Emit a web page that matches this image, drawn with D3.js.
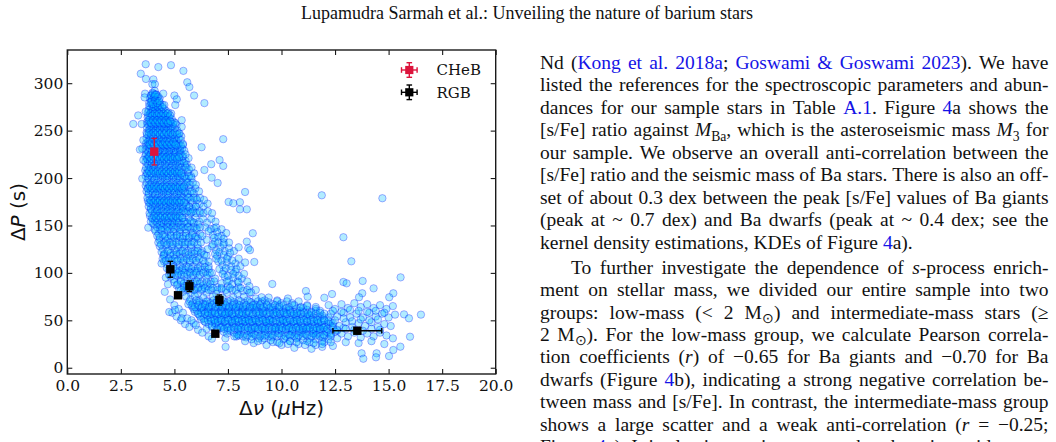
<!DOCTYPE html>
<html><head><meta charset="utf-8">
<script src="https://cdn.jsdelivr.net/npm/d3@7"></script>
<style>html,body{margin:0;padding:0;background:#fff}svg{display:block}</style>
</head><body>
<svg id="c" width="1056" height="442"></svg>
<script>
// ---------------- data ----------------
const xTicks = [0, 2.5, 5, 7.5, 10, 12.5, 15, 17.5, 20];
const yTicks = [0, 50, 100, 150, 200, 250, 300];
const xLabelParts = [["n","Δ"],["i","ν"],["n"," ("],["i","μ"],["n","Hz)"]];
const yLabelParts = [["n","Δ"],["i","P"],["n"," (s)"]];
const legendLabels = ["CHeB", "RGB"];

// [Δν (μHz), ΔP (s)]
const clumpPoints = [
[3.98,290],[4.08,292],[4.14,288],[4.02,286],[4.2,285],[3.9,287],
[3.82,279],[3.94,281],[4.04,277],[4.12,280],[4.22,276],[4.32,279],[4.45,277],[3.9,274],[4.1,273],[4.28,274],
[3.76,269],[3.86,266],[3.96,270],[4.05,265],[4.15,269],[4.25,265],[4.35,270],[4.46,266],[4.58,269],[4.7,265],[4.85,268],[4.0,262],[4.2,261],[4.42,262],[4.65,261],
[3.72,259],[3.82,256],[3.92,260],[4.02,255],[4.12,259],[4.22,255],[4.32,259],[4.42,255],[4.52,258],[4.62,254],[4.74,258],[4.86,255],[4.98,259],[5.1,256],[3.85,251],[4.08,250],[4.3,251],[4.55,250],[4.8,251],
[3.7,248],[3.8,245],[3.9,249],[4.0,244],[4.1,248],[4.2,244],[4.3,247],[4.4,243],[4.5,247],[4.6,244],[4.72,248],[4.84,244],[4.96,247],[5.08,243],[5.2,247],[5.32,244],[3.84,240],[4.05,239],[4.28,240],[4.52,239],[4.78,240],[5.0,238],
[3.66,236],[3.76,233],[3.88,237],[3.98,233],[4.18,236],[4.3,232],[4.42,236],[4.54,232],[4.66,235],[4.78,232],[4.9,236],[5.02,232],[5.14,235],[5.26,231],[5.4,235],[3.8,228],[4.25,227],[4.5,228],[4.75,226],[5.0,227],[5.3,226],
[3.64,223],[3.74,220],[3.86,224],[3.96,219],[4.16,222],[4.28,219],[4.4,223],[4.52,219],[4.64,222],[4.76,218],[4.88,222],[5.0,218],[5.12,221],[5.25,218],[5.38,222],[5.52,218],[5.66,221],[3.8,214],[4.05,213],[4.35,214],[4.6,212],[4.9,213],[5.2,212],[5.5,213],
[3.64,208],[3.74,205],[3.86,209],[3.98,204],[4.1,208],[4.22,204],[4.34,207],[4.46,203],[4.58,207],[4.7,203],[4.82,207],[4.95,203],[5.08,206],[5.2,202],[5.34,206],[5.48,202],[5.62,206],[5.78,202],[5.92,205],[3.78,199],[4.05,198],[4.35,197],[4.65,198],[4.95,196],[5.25,197],[5.6,196],
[3.66,192],[3.78,189],[3.9,193],[4.02,188],[4.14,192],[4.26,188],[4.38,191],[4.5,187],[4.62,191],[4.74,187],[4.86,191],[4.98,187],[5.1,190],[5.24,186],[5.38,190],[5.52,186],[5.66,190],[5.82,186],[5.98,189],[6.15,186],[3.8,183],[4.1,182],[4.4,181],[4.7,182],[5.0,180],[5.3,181],[5.65,180],[6.0,179],
[3.76,176],[3.88,173],[4.0,177],[4.12,172],[4.24,176],[4.36,172],[4.48,175],[4.6,171],[4.72,175],[4.84,171],[4.96,175],[5.1,171],[5.24,174],[5.38,170],[5.52,174],[5.68,170],[5.84,174],[6.0,170],[6.18,173],[6.36,170],[6.55,173],[3.9,167],[4.2,166],[4.5,165],[4.8,166],[5.1,164],[5.45,165],[5.8,164],[6.2,163],
[3.86,160],[3.98,157],[4.1,161],[4.22,156],[4.34,160],[4.46,156],[4.58,159],[4.7,155],[4.82,159],[4.95,155],[5.08,159],[5.22,155],[5.36,158],[5.5,154],[5.66,158],[5.82,154],[5.98,158],[6.16,154],[6.34,157],[6.52,153],[6.72,157],[6.92,154],[4.05,151],[4.35,150],[4.65,149],[4.95,150],[5.3,148],[5.65,149],[6.0,147],[6.45,148],[6.85,147]
];
const clumpCore = [
[3.86,284],[3.95,282],[4.04,285],[4.13,283],[4.22,281],[4.31,284],
[3.8,272],[3.9,270],[4.0,273],[4.1,271],[4.2,269],[4.3,272],[4.4,270],[4.5,273],[4.6,271],[4.72,269],
[3.75,264],[3.85,262],[3.95,265],[4.05,263],[4.15,261],[4.25,264],[4.35,262],[4.45,265],[4.55,263],[4.65,261],[4.75,264],[4.88,262],
[3.72,253],[3.82,251],[3.92,254],[4.02,252],[4.12,250],[4.22,253],[4.32,251],[4.42,254],[4.52,252],[4.62,250],[4.72,253],[4.82,251],[4.92,254],[5.02,252],[5.14,250],
[3.7,242],[3.8,240],[3.9,243],[4.0,241],[4.1,239],[4.2,242],[4.3,240],[4.4,243],[4.5,241],[4.6,239],[4.7,242],[4.8,240],[4.9,243],[5.0,241],[5.1,239],[5.2,242],[5.3,240],
[3.66,230],[3.76,228],[3.86,231],[3.96,229],[4.16,230],[4.26,228],[4.36,231],[4.46,229],[4.56,227],[4.66,230],[4.76,228],[4.86,231],[4.96,229],[5.06,227],[5.16,230],[5.26,228],[5.36,231],[5.46,229],
[3.65,217],[3.75,215],[3.85,218],[3.95,216],[4.05,214],[4.15,217],[4.25,215],[4.35,218],[4.45,216],[4.55,214],[4.65,217],[4.75,215],[4.85,218],[4.95,216],[5.05,214],[5.15,217],[5.25,215],[5.35,218],[5.45,216],[5.58,214],
[3.66,202],[3.76,200],[3.86,203],[3.96,201],[4.06,199],[4.16,202],[4.26,200],[4.36,203],[4.46,201],[4.56,199],[4.66,202],[4.76,200],[4.86,203],[4.96,201],[5.06,199],[5.16,202],[5.26,200],[5.36,203],[5.46,201],[5.56,199],[5.68,202],[5.8,200],
[3.7,186],[3.8,184],[3.9,187],[4.0,185],[4.1,183],[4.2,186],[4.3,184],[4.4,187],[4.5,185],[4.6,183],[4.7,186],[4.8,184],[4.9,187],[5.0,185],[5.1,183],[5.2,186],[5.3,184],[5.4,187],[5.5,185],[5.62,183],[5.75,186],[5.9,184],
[3.8,170],[3.9,168],[4.0,171],[4.1,169],[4.2,167],[4.3,170],[4.4,168],[4.5,171],[4.6,169],[4.7,167],[4.8,170],[4.9,168],[5.0,171],[5.1,169],[5.2,167],[5.3,170],[5.42,168],[5.55,171],[5.7,169],[5.85,167],[6.0,170],
[3.9,154],[4.0,152],[4.1,155],[4.2,153],[4.3,151],[4.4,154],[4.5,152],[4.6,155],[4.7,153],[4.8,151],[4.9,154],[5.0,152],[5.1,155],[5.2,153],[5.32,151],[5.45,154],[5.6,152],[5.75,155],[5.9,153],[6.1,151]
];
const clumpFill = [
[3.92,287],[4.0,289],[4.08,286],[4.16,288],[4.24,286],
[3.83,276],[3.93,278],[4.03,275],[4.13,277],[4.23,275],[4.33,277],[4.43,275],[4.53,277],
[3.78,266],[3.88,268],[3.98,266],[4.08,268],[4.18,266],[4.28,268],[4.38,266],[4.48,268],[4.58,266],[4.68,268],[4.8,266],
[3.74,257],[3.84,259],[3.94,257],[4.04,259],[4.14,257],[4.24,259],[4.34,257],[4.44,259],[4.54,257],[4.64,259],[4.74,257],[4.84,259],[4.94,257],[5.04,258],
[3.72,246],[3.82,248],[3.92,246],[4.02,248],[4.12,246],[4.22,248],[4.32,246],[4.42,248],[4.52,246],[4.62,248],[4.72,246],[4.82,248],[4.92,246],[5.02,248],[5.12,246],[5.24,247],
[3.7,234],[3.8,236],[3.9,234],[4.0,236],[4.1,234],[4.2,236],[4.3,234],[4.4,236],[4.5,234],[4.6,236],[4.7,234],[4.8,236],[4.9,234],[5.0,236],[5.1,234],[5.2,236],[5.3,234],[5.4,236],
[3.68,225],[3.78,223],[3.9,225],[4.0,223],[4.1,225],[4.2,223],[4.32,225],[4.44,223],[4.56,225],[4.68,223],[4.8,225],[4.92,223],[5.04,225],[5.16,223],[5.28,225],[5.4,223],[5.52,225],
[3.68,211],[3.78,209],[3.9,211],[4.0,209],[4.12,211],[4.24,209],[4.36,211],[4.48,209],[4.6,211],[4.72,209],[4.84,211],[4.96,209],[5.08,211],[5.2,209],[5.32,211],[5.44,209],[5.56,211],[5.68,209],[5.8,211],
[3.7,195],[3.82,193],[3.94,195],[4.06,193],[4.18,195],[4.3,193],[4.42,195],[4.54,193],[4.66,195],[4.78,193],[4.9,195],[5.02,193],[5.14,195],[5.26,193],[5.38,195],[5.5,193],[5.62,195],[5.74,193],[5.86,195],[6.0,193],
[3.74,179],[3.86,177],[3.98,179],[4.1,177],[4.22,179],[4.34,177],[4.46,179],[4.58,177],[4.7,179],[4.82,177],[4.94,179],[5.06,177],[5.18,179],[5.3,177],[5.42,179],[5.54,177],[5.66,179],[5.78,177],[5.9,179],[6.05,177],[6.2,179],[6.38,177],
[3.84,163],[3.96,165],[4.08,163],[4.2,165],[4.32,163],[4.44,165],[4.56,163],[4.68,165],[4.8,163],[4.92,165],[5.04,163],[5.16,165],[5.28,163],[5.4,165],[5.52,163],[5.64,165],[5.76,163],[5.88,165],[6.02,163],[6.18,165],[6.36,163],[6.56,165],[6.76,163],
[4.08,146],[4.2,148],[4.32,146],[4.44,148],[4.56,146],[4.68,148],[4.8,146],[4.92,148],[5.04,146],[5.16,148],[5.28,146],[5.4,148],[5.52,146],[5.64,148],[5.76,146],[5.9,148],[6.05,146],[6.2,148],[6.7,146],[6.95,148],[7.2,146]
];
const clumpExtra = [
[3.9,280],[4.0,278],[4.1,282],[4.2,279],[4.3,281],
[3.8,261],[3.9,258],[4.0,261],[4.1,258],[4.2,261],[4.3,258],[4.4,261],[4.5,258],[4.6,261],[4.7,258],[4.8,260],
[3.75,238],[3.85,235],[3.95,238],[4.05,235],[4.15,238],[4.25,235],[4.35,238],[4.45,235],[4.55,238],[4.65,235],[4.75,238],[4.85,235],[4.95,238],[5.05,235],
[3.72,220],[3.82,222],[3.92,220],[4.02,222],[4.12,220],[4.22,222],[4.32,220],[4.42,222],[4.52,220],[4.62,222],[4.72,220],[4.82,222],[4.92,220],[5.02,222],[5.12,220],[5.22,222],
[3.72,205],[3.82,207],[3.92,205],[4.02,207],[4.12,205],[4.22,207],[4.32,205],[4.42,207],[4.52,205],[4.62,207],[4.72,205],[4.82,207],[4.92,205],[5.02,207],[5.12,205],[5.22,207],[5.32,205],
[3.75,189],[3.85,191],[3.95,189],[4.05,191],[4.15,189],[4.25,191],[4.35,189],[4.45,191],[4.55,189],[4.65,191],[4.75,189],[4.85,191],[4.95,189],[5.05,191],[5.15,189],[5.25,191],[5.35,189],[5.45,191],
[3.82,174],[3.92,176],[4.02,174],[4.12,176],[4.22,174],[4.32,176],[4.42,174],[4.52,176],[4.62,174],[4.72,176],[4.82,174],[4.92,176],[5.02,174],[5.12,176],[5.22,174],[5.32,176],[5.45,174],
[3.95,158],[4.05,160],[4.15,158],[4.25,160],[4.35,158],[4.45,160],[4.55,158],[4.65,160],[4.75,158],[4.85,160],[4.95,158],[5.05,160],[5.15,158],[5.25,160],[5.38,158]
];
const kneePoints = [
[4.12,144],[4.26,141],[4.4,145],[4.54,140],[4.68,144],[4.82,140],[4.96,143],[5.1,139],[5.25,143],[5.4,139],[5.55,142],[5.7,138],[5.86,142],[6.02,138],[6.2,141],[6.6,144],[6.8,140],[7.0,143],[7.2,139],[7.42,142],[4.3,135],[4.6,134],[4.9,133],[5.2,134],[5.5,132],[5.85,133],[6.9,133],[7.3,132],
[4.32,128],[4.46,125],[4.6,129],[4.74,124],[4.88,128],[5.02,124],[5.16,127],[5.3,123],[5.46,127],[5.62,123],[5.78,127],[5.95,123],[6.12,126],[6.3,123],[6.75,128],[6.95,124],[7.15,127],[7.35,123],[7.55,126],[7.78,123],[8.0,127],[4.5,119],[4.8,118],[5.1,119],[5.4,117],[5.75,118],[6.1,117],[7.0,118],[7.5,117],
[4.52,112],[4.66,109],[4.8,113],[4.95,108],[5.1,112],[5.25,108],[5.4,111],[5.56,107],[5.72,111],[5.88,107],[6.05,111],[6.22,107],[6.42,110],[6.6,107],[7.05,112],[7.25,108],[7.45,111],[7.65,107],[7.85,110],[8.08,107],[8.3,111],[4.75,103],[5.05,102],[5.35,103],[5.7,101],[6.05,102],[6.45,101],[7.3,102],[7.85,101],
[4.82,96],[4.98,93],[5.14,97],[5.3,92],[5.46,96],[5.62,92],[5.78,95],[5.95,91],[6.12,95],[6.3,91],[6.5,95],[6.7,91],[6.9,94],[7.35,96],[7.55,92],[7.75,95],[7.95,91],[8.15,94],[8.4,91],[5.1,87],[5.45,86],[5.8,87],[6.15,85],[6.55,86],[7.0,85],[7.5,86],[8.0,85],[8.5,86],
[5.22,83],[5.4,80],[5.58,84],[5.75,79],[5.92,82],[6.1,78],[6.3,83],[6.5,79],[6.72,82],[6.95,78],[7.2,83],[7.45,79],[7.7,82],[7.95,78],[8.2,81],[8.5,79],[8.8,82],
[4.5,118],[4.4,110],[4.6,95],[4.7,88],[4.55,80],[4.8,72],[5.0,66],[4.9,58],[5.1,54],[5.3,50],[5.5,46],[5.7,43],[5.9,47],[6.1,40],[6.3,37],[6.5,41],[5.2,62],[5.4,58],[5.6,52],[5.8,50],[6.0,45],
[6.55,125],[6.6,112],[6.5,135],[6.65,100],[6.5,118]
];
const kneeCore = [
[4.2,139],[4.32,137],[4.45,140],[4.58,138],[4.7,136],[4.84,139],[4.98,137],[5.12,140],[5.26,138],[5.4,136],[5.54,139],[5.68,137],[5.82,140],[5.96,138],[6.1,136],[6.3,139],
[4.4,122],[4.54,120],[4.68,123],[4.82,121],[4.96,119],[5.1,122],[5.24,120],[5.38,123],[5.52,121],[5.66,119],[5.8,122],[5.94,120],[6.08,123],[6.24,121],[6.4,119],
[4.65,105],[4.8,103],[4.95,106],[5.1,104],[5.24,102],[5.38,105],[5.52,103],[5.66,106],[5.8,104],[5.94,102],[6.1,105],[6.26,103],[6.42,106],[6.6,104],
[5.0,90],[5.15,88],[5.3,91],[5.45,89],[5.6,87],[5.75,90],[5.9,88],[6.05,91],[6.2,89],[6.35,87],[6.5,90],[6.68,88],[6.86,91],
[6.9,120],[7.1,122],[7.3,119],[7.6,121],[7.1,104],[7.4,105],[7.65,103],[7.9,104],[7.2,89],[7.45,91],[7.7,88],[8.0,90],[6.85,137],[7.05,138],[7.3,136]
];
const kneeFill = [
[4.25,132],[4.38,130],[4.52,132],[4.66,130],[4.8,132],[4.94,130],[5.08,132],[5.22,130],[5.36,132],[5.5,130],[5.64,132],[5.78,130],[5.92,132],[6.08,130],[6.24,132],[6.8,130],[7.05,132],[7.3,130],[7.55,132],
[4.45,115],[4.6,113],[4.74,115],[4.88,113],[5.02,115],[5.16,113],[5.3,115],[5.44,113],[5.58,115],[5.72,113],[5.86,115],[6.0,113],[6.16,115],[6.34,113],[6.95,115],[7.2,113],[7.45,115],[7.7,113],[8.0,115],
[4.75,98],[4.9,100],[5.04,98],[5.18,100],[5.32,98],[5.46,100],[5.6,98],[5.74,100],[5.88,98],[6.02,100],[6.18,98],[6.36,100],[6.55,98],[6.75,100],[7.25,99],[7.5,97],[7.75,99],[8.0,97],[8.25,99],
[5.3,82],[5.46,84],[5.62,82],[5.78,84],[5.94,82],[6.1,84],[6.26,82],[6.42,84],[6.6,82],[6.8,84],[7.0,82],[7.2,84],[7.4,82],[7.6,84],[7.85,82],[8.1,84],[8.4,82]
];
const bandPoints = [
[5.55,75],[5.75,72],[5.95,76],[6.15,71],[6.35,74],[6.55,70],[6.8,75],[7.0,71],[7.25,74],[7.5,70],[7.75,74],[8.0,71],[8.25,75],[8.5,70],[8.8,73],[9.1,70],[9.4,74],[9.8,71],[10.3,73],[10.8,70],
[5.65,67],[5.85,64],[6.05,68],[6.25,63],[6.45,67],[6.65,64],[6.85,68],[7.05,63],[7.3,66],[7.55,63],[7.8,67],[8.05,63],[8.3,66],[8.55,62],[8.8,66],[9.05,63],[9.3,67],[9.6,63],[9.9,66],[10.2,62],[10.5,66],[10.85,63],[11.2,66],[11.6,64],
[5.95,59],[6.15,56],[6.35,60],[6.55,55],[6.75,59],[6.95,55],[7.15,60],[7.35,56],[7.55,59],[7.75,55],[7.95,60],[8.15,56],[8.4,59],[8.65,55],[8.9,60],[9.15,56],[9.4,59],[9.65,55],[9.9,59],[10.15,56],[10.4,60],[10.7,55],[11.0,59],[11.3,56],[11.6,60],[11.9,55],
[6.25,51],[6.45,48],[6.7,52],[6.9,47],[7.1,51],[7.3,48],[7.5,52],[7.7,47],[7.9,51],[8.1,47],[8.3,52],[8.5,48],[8.7,51],[8.9,47],[9.1,52],[9.3,48],[9.5,51],[9.7,47],[9.95,52],[10.2,48],[10.45,51],[10.7,47],[10.95,52],[11.2,48],[11.45,51],[11.7,47],[12.0,50],[12.3,48],
[6.75,43],[7.0,40],[7.25,44],[7.5,39],[7.75,43],[8.0,40],[8.25,44],[8.5,39],[8.75,43],[9.0,40],[9.25,44],[9.5,39],[9.75,43],[10.0,40],[10.25,44],[10.5,39],[10.75,43],[11.0,40],[11.25,44],[11.5,39],[11.75,43],[12.0,40],[12.3,44],[12.6,39],[12.9,42],
[8.05,35],[8.35,32],[8.65,36],[8.95,31],[9.25,35],[9.55,32],[9.85,36],[10.15,31],[10.45,35],[10.75,32],[11.05,36],[11.35,31],[11.65,35],[11.95,32],[12.3,35],[12.6,31],
[9.6,27],[10.0,24],[10.4,28],[10.8,25],[11.2,28],[11.6,24],[12.0,27],[12.4,23],[10.6,21],[11.4,20],[11.9,22],
[6.6,62],[6.9,57],[7.2,64],[7.45,58],[7.7,62],[7.95,52],[8.2,61],[8.45,53],[8.7,63],[8.95,52],[9.2,60],[9.45,50],[9.7,61],[9.95,45],[10.2,58],[10.45,46],[10.7,57],[10.95,44],[11.2,54],[11.45,45],[11.7,53],[12.0,45],
[6.9,45],[7.2,53],[7.45,46],[7.7,54],[8.0,44],[8.3,49],[8.6,42],[8.85,48],[9.15,41],[9.4,47],[9.7,41],[10.0,50],[10.3,41],[10.6,49],[10.9,38],[11.2,42],[11.5,36],[11.8,41],[12.15,37],
[6.6,33],[6.75,30.6],[7.38,31],[7.39,22],[7.9,33],[8.3,28],[8.7,26],[9.1,29],[9.3,24]
];
const bandCore = [
[5.7,70],[5.86,68],[6.02,71],[6.18,69],[6.34,67],[6.5,70],[6.66,68],[6.82,71],[6.98,69],[7.14,67],[7.3,70],[7.46,68],[7.62,71],[7.78,69],[7.94,67],[8.1,70],[8.26,68],[8.42,71],[8.58,69],[8.74,67],[8.9,70],[9.06,68],[9.22,71],[9.4,69],[9.6,67],[9.8,70],[10.0,68],[10.25,70],[10.5,68],
[5.9,62],[6.06,60],[6.22,63],[6.38,61],[6.54,59],[6.7,62],[6.86,60],[7.02,63],[7.18,61],[7.34,59],[7.5,62],[7.66,60],[7.82,63],[7.98,61],[8.14,59],[8.3,62],[8.46,60],[8.62,63],[8.78,61],[8.94,59],[9.1,62],[9.26,60],[9.42,63],[9.58,61],[9.74,59],[9.9,62],[10.06,60],[10.22,63],[10.38,61],[10.54,59],[10.7,62],[10.86,60],[11.02,63],[11.2,61],[11.4,59],[11.6,62],[11.8,60],
[6.2,54],[6.36,52],[6.52,55],[6.68,53],[6.84,51],[7.0,54],[7.16,52],[7.32,55],[7.48,53],[7.64,51],[7.8,54],[7.96,52],[8.12,55],[8.28,53],[8.44,51],[8.6,54],[8.76,52],[8.92,55],[9.08,53],[9.24,51],[9.4,54],[9.56,52],[9.72,55],[9.88,53],[10.04,51],[10.2,54],[10.36,52],[10.52,55],[10.68,53],[10.84,51],[11.0,54],[11.16,52],[11.32,55],[11.48,53],[11.64,51],[11.8,54],[11.98,52],[12.2,53],
[6.6,46],[6.76,44],[6.92,47],[7.08,45],[7.24,43],[7.4,46],[7.56,44],[7.72,47],[7.88,45],[8.04,43],[8.2,46],[8.36,44],[8.52,47],[8.68,45],[8.84,43],[9.0,46],[9.16,44],[9.32,47],[9.48,45],[9.64,43],[9.8,46],[9.96,44],[10.12,47],[10.28,45],[10.44,43],[10.6,46],[10.76,44],[10.92,47],[11.08,45],[11.24,43],[11.4,46],[11.56,44],[11.72,47],[11.88,45],[12.04,43],[12.2,46],[12.4,44],
[7.3,38],[7.46,36],[7.62,39],[7.78,37],[7.94,35],[8.1,38],[8.26,36],[8.42,39],[8.58,37],[8.74,35],[8.9,38],[9.06,36],[9.22,39],[9.38,37],[9.54,35],[9.7,38],[9.86,36],[10.02,39],[10.18,37],[10.34,35],[10.5,38],[10.66,36],[10.82,39],[10.98,37],[11.14,35],[11.3,38],[11.46,36],[11.62,39],[11.78,37],[11.94,35],[12.1,38],[12.3,36],[12.5,38],
[8.6,30],[8.9,28],[9.2,31],[9.5,29],[9.8,27],[10.1,30],[10.4,28],[10.7,31],[11.0,29],[11.3,27],[11.6,30],[11.9,28],[12.2,30]
];
const bandFill = [
[5.8,66],[5.96,64],[6.12,66],[6.28,64],[6.44,66],[6.6,64],[6.76,66],[6.92,64],[7.08,66],[7.24,64],[7.4,66],[7.56,64],[7.72,66],[7.88,64],[8.04,66],[8.2,64],[8.36,66],[8.52,64],[8.68,66],[8.84,64],[9.0,66],[9.16,64],[9.32,66],[9.5,64],[9.7,66],[9.9,64],[10.1,66],[10.35,64],[10.6,66],[10.9,64],[11.2,65],
[6.1,57],[6.26,58],[6.42,57],[6.58,58],[6.74,57],[6.9,58],[7.06,57],[7.22,58],[7.38,57],[7.54,58],[7.7,57],[7.86,58],[8.02,57],[8.18,58],[8.34,57],[8.5,58],[8.66,57],[8.82,58],[8.98,57],[9.14,58],[9.3,57],[9.46,58],[9.62,57],[9.78,58],[9.94,57],[10.1,58],[10.26,57],[10.42,58],[10.58,57],[10.74,58],[10.9,57],[11.06,58],[11.22,57],[11.4,58],[11.6,57],[11.8,58],[12.0,57],
[6.4,49],[6.56,50],[6.72,49],[6.88,50],[7.04,49],[7.2,50],[7.36,49],[7.52,50],[7.68,49],[7.84,50],[8.0,49],[8.16,50],[8.32,49],[8.48,50],[8.64,49],[8.8,50],[8.96,49],[9.12,50],[9.28,49],[9.44,50],[9.6,49],[9.76,50],[9.92,49],[10.08,50],[10.24,49],[10.4,50],[10.56,49],[10.72,50],[10.88,49],[11.04,50],[11.2,49],[11.36,50],[11.52,49],[11.68,50],[11.84,49],[12.0,50],[12.2,49],
[7.0,41],[7.16,42],[7.32,41],[7.48,42],[7.64,41],[7.8,42],[7.96,41],[8.12,42],[8.28,41],[8.44,42],[8.6,41],[8.76,42],[8.92,41],[9.08,42],[9.24,41],[9.4,42],[9.56,41],[9.72,42],[9.88,41],[10.04,42],[10.2,41],[10.36,42],[10.52,41],[10.68,42],[10.84,41],[11.0,42],[11.16,41],[11.32,42],[11.48,41],[11.64,42],[11.8,41],[11.96,42],[12.15,41],[12.4,42],
[7.8,33],[8.0,34],[8.2,33],[8.4,34],[8.6,33],[8.8,34],[9.0,33],[9.2,34],[9.4,33],[9.6,34],[9.8,33],[10.0,34],[10.2,33],[10.4,34],[10.6,33],[10.8,34],[11.0,33],[11.2,34],[11.4,33],[11.6,34],[11.8,33],[12.0,34],[12.3,33],
[9.9,26],[10.3,25],[10.7,27],[11.1,24],[11.5,26],[11.9,25],[12.3,27]
];
const tailPoints = [
[12.2,66],[12.5,62],[12.8,67],[13.1,63],[13.4,68],[13.7,64],[14.0,67],[14.3,63],[14.6,66],[14.9,62],[15.2,65],
[12.3,57],[12.6,54],[12.9,58],[13.2,53],[13.5,57],[13.8,53],[14.1,58],[14.4,54],[14.7,57],[15.0,53],[15.3,56],
[12.4,47],[12.7,44],[13.0,48],[13.3,43],[13.6,47],[13.9,44],[14.2,48],[14.5,43],[14.8,46],[15.1,44],
[12.8,36],[13.1,33],[13.4,37],[13.7,32],[14.0,36],[14.3,33],[14.6,37],[14.9,34],[15.2,31],
[13.0,27],[13.6,26],[14.2,28],[14.8,25],
[12.5,50],[12.9,52],[13.3,49],[13.7,51],[14.1,50],[14.5,51],[12.6,40],[13.0,41],[13.4,40],[13.8,39],[14.2,41],[14.6,40],[12.4,60],[12.8,59],[13.2,61],[13.6,60],[14.0,59],[14.4,60],[14.8,58]
];
const scatterOutliers = [
[3.66,320],[4.25,317],[4.84,319],[5.42,313],[3.43,310],[3.67,304.5],[4.02,304],[3.97,299],[4.09,299],[5.60,301],[5.70,296],[5.92,287],[6.40,279],[3.63,289],[3.61,285],[4.09,288],[4.48,289],[5.0,287],[5.11,283],[5.04,277],[3.31,266],[3.08,257],[3.47,257],[3.66,270],[5.34,261],[5.34,254],[7.28,241],[6.27,232.5],[3.55,240],[3.50,231],[3.39,230],[3.55,219],[7.11,219],[7.28,212.8],[6.72,214.6],[6.40,208.5],[3.50,199.4],[6.74,200.4],[7.02,194.8],[8.30,185.3],[7.53,174.8],[7.75,173.4],[8.06,174.5],[8.06,167],[8.38,167],[8.66,141.8],[8.38,133],[8.45,126],[3.78,147.7],[8.73,111.5],[9.57,88.3],[8.53,124],[11.88,181.8],[14.71,178.7],[12.89,137.6],
[4.76,58.8],[5.03,60.9],[5.34,52.1],[11.14,80.9],[11.22,74.9],[12.0,73.8],[9.07,74.3],[8.58,79.5],[13.26,112.2],[12.89,90.4],[13.04,89],[13.79,91.5],[14.30,83.7],[15.56,95.3],[12.36,77.7],[13.77,78.5],[13.62,74.3],[15.22,78.5],[15.03,74.3],[15.72,56.3],[15.95,52.1],[16.51,56],[16.0,32.7],[15.55,22.2],[13.74,15.2],[13.82,9.5],[14.44,15.2],[14.41,11],[15.02,12.3],[15.22,18.7]
];
// asteroseismic reference stars: [Δν, ΔP, xerr, yerr]
const chebStars = [[4.06,227.8,0.08,14]];
const rgbStars = [[4.81,103.8,0.06,8.4],[5.17,76.4,0.06,2.5],[5.70,85.9,0.06,5.6],[7.10,71.4,0.06,5.3],[6.91,35.9,0.05,2],[13.54,39.0,1.14,2]];

const headerText = "Lupamudra Sarmah et al.: Unveiling the nature of barium stars";
const textLines = [
 [["n","Nd ("],["b","Kong et al. 2018a"],["n","; "],["b","Goswami & Goswami 2023"],["n","). We have"]],
 [["n","listed the references for the spectroscopic parameters and abun-"]],
 [["n","dances for our sample stars in Table "],["b","A.1"],["n",". Figure "],["b","4"],["n","a shows the"]],
 [["n","[s/Fe] ratio against "],["i","M"],["s","Ba"],["n",", which is the asteroseismic mass "],["i","M"],["s","3"],["n"," for"]],
 [["n","our sample. We observe an overall anti-correlation between the"]],
 [["n","[s/Fe] ratio and the seismic mass of Ba stars. There is also an off-"]],
 [["n","set of about 0.3 dex between the peak [s/Fe] values of Ba giants"]],
 [["n","(peak at ~ 0.7 dex) and Ba dwarfs (peak at ~ 0.4 dex; see the"]],
 [["n","kernel density estimations, KDEs of Figure "],["b","4"],["n","a)."]],
 [["n","To further investigate the dependence of "],["i","s"],["n","-process enrich-"]],
 [["n","ment on stellar mass, we divided our entire sample into two"]],
 [["n","groups: low-mass (< 2 M"],["s","⊙"],["n",") and intermediate-mass stars (≥"]],
 [["n","2 M"],["s","⊙"],["n","). For the low-mass group, we calculate Pearson correla-"]],
 [["n","tion coefficients ("],["i","r"],["n",") of −0.65 for Ba giants and −0.70 for Ba"]],
 [["n","dwarfs (Figure "],["b","4"],["n","b), indicating a strong negative correlation be-"]],
 [["n","tween mass and [s/Fe]. In contrast, the intermediate-mass group"]],
 [["n","shows a large scatter and a weak anti-correlation ("],["i","r"],["n"," = −0.25;"]],
 [["n","Figure "],["b","4"],["n","c). It is also interesting to note that there is a wide range"]]
];
const paragraphEnds = [8];
const paragraphStarts = [9];

// ---------------- drawing ----------------
const svg = d3.select("#c");
const X = d3.scaleLinear().domain([0, 20]).range([67.3, 495.7]);
const Y = d3.scaleLinear().domain([-6.6, 335]).range([374, 50]);
const serifTick = "'DejaVu Serif', serif";
const sansMath = "'DejaVu Sans', sans-serif";
const bodyFont = "'Liberation Serif', 'Times New Roman', serif";
const axisColor = "#1a1a1a";

// scatter
const allPts = [].concat(clumpPoints, clumpCore, clumpFill, clumpExtra, kneePoints, kneeCore, kneeFill, bandPoints, bandCore, bandFill, tailPoints, scatterOutliers);
svg.append("g").selectAll("circle").data(allPts).join("circle")
  .attr("cx", d => X(d[0])).attr("cy", d => Y(d[1])).attr("r", 3.7)
  .attr("fill", "#00bfff").attr("fill-opacity", 0.3)
  .attr("stroke", "#0000ff").attr("stroke-opacity", 0.3).attr("stroke-width", 1);

// axes
function styleAxis(g){
  g.select(".domain").remove();
  g.selectAll(".tick line").attr("stroke", axisColor).attr("stroke-width", 1.1);
  g.selectAll(".tick text").attr("font-family", serifTick).attr("font-size", 15.5).attr("fill", "#111");
}
const [x0, x1] = X.range(), [yb, yt] = Y.range();
svg.append("g").attr("transform", `translate(0,${yb})`)
  .call(d3.axisBottom(X).tickValues(xTicks).tickFormat(d3.format(".1f")).tickSize(-5).tickSizeOuter(0).tickPadding(6)).call(styleAxis);
svg.append("g").attr("transform", `translate(0,${yt})`)
  .call(d3.axisTop(X).tickValues(xTicks).tickFormat("").tickSize(-5).tickSizeOuter(0)).call(styleAxis);
svg.append("g").attr("transform", `translate(${x0},0)`)
  .call(d3.axisLeft(Y).tickValues(yTicks).tickFormat(d3.format("d")).tickSize(-5).tickSizeOuter(0).tickPadding(4)).call(styleAxis);
svg.append("g").attr("transform", `translate(${x1},0)`)
  .call(d3.axisRight(Y).tickValues(yTicks).tickFormat("").tickSize(-5).tickSizeOuter(0)).call(styleAxis);
svg.append("rect").attr("x", x0).attr("y", yt).attr("width", x1 - x0).attr("height", yb - yt)
  .attr("fill", "none").attr("stroke", axisColor).attr("stroke-width", 1.4);

// axis labels
function mathText(sel, parts){
  parts.forEach(([st, t]) => {
    const ts = sel.append("tspan").text(t);
    if (st === "i") ts.attr("font-style", "italic");
  });
}
const xl = svg.append("text").attr("x", (x0 + x1) / 2).attr("y", 414.5).attr("text-anchor", "middle")
  .attr("font-family", sansMath).attr("font-size", 20).attr("fill", "#111");
mathText(xl, xLabelParts);
const yl = svg.append("text").attr("transform", `translate(25,${(yb + yt) / 2}) rotate(-90)`).attr("text-anchor", "middle")
  .attr("font-family", sansMath).attr("font-size", 20).attr("fill", "#111");
mathText(yl, yLabelParts);

// error bar stars
function drawStar(g, cx, cy, xe, ye, color, size){
  const cap = 2.8;
  const xa = cx - xe, xb = cx + xe, ya = cy - ye, yb2 = cy + ye;
  const lines = [[xa, cy, xb, cy], [cx, ya, cx, yb2]];
  if (xe > 3) lines.push([xa, cy - cap, xa, cy + cap], [xb, cy - cap, xb, cy + cap]);
  if (ye > 3) lines.push([cx - cap, ya, cx + cap, ya], [cx - cap, yb2, cx + cap, yb2]);
  lines.forEach(l => g.append("line").attr("x1", l[0]).attr("y1", l[1]).attr("x2", l[2]).attr("y2", l[3])
    .attr("stroke", color).attr("stroke-width", 1.4));
  g.append("rect").attr("x", cx - size / 2).attr("y", cy - size / 2).attr("width", size).attr("height", size).attr("fill", color);
}
const starG = svg.append("g");
rgbStars.forEach(d => drawStar(starG, X(d[0]), Y(d[1]), X(d[0] + d[2]) - X(d[0]), Y(d[1]) - Y(d[1] + d[3]), "#000", 8.4));
chebStars.forEach(d => drawStar(starG, X(d[0]), Y(d[1]), X(d[0] + d[2]) - X(d[0]), Y(d[1]) - Y(d[1] + d[3]), "#dc143c", 8.4));

// legend
const legColors = ["#dc143c", "#000"];
legendLabels.forEach((lab, k) => {
  const cy = 70 + k * 22.3, cx = 409.3;
  drawStar(svg.append("g"), cx, cy, 7.8, 7.3, legColors[k], 8.2);
  svg.append("text").attr("x", 436.5).attr("y", cy + 5.3).attr("font-family", serifTick)
    .attr("font-size", 15).attr("fill", "#111").text(lab);
});

// header
svg.append("text").attr("x", 527).attr("y", 19).attr("text-anchor", "middle")
  .attr("font-family", bodyFont).attr("font-size", 18).attr("fill", "#111").text(headerText);

// body text, justified
const fs = 19.5, colL = 540, colR = 1048.5, base0 = 69, lead = 22.45, paraGap = 2.6, indent = 31;
const linkColor = "#1414e6";
function toWords(segs){
  const words = []; let cur = [];
  segs.forEach(([st, t]) => {
    t.split(" ").forEach((p, k) => {
      if (k > 0) { if (cur.length) words.push(cur); cur = []; }
      if (p.length) cur.push([st, p]);
    });
  });
  if (cur.length) words.push(cur);
  return words;
}
const bodyG = svg.append("g").attr("font-family", bodyFont).attr("font-size", fs).attr("fill", "#111");
let baseY = base0;
textLines.forEach((segs, li) => {
  if (li > 0) baseY += lead + (paragraphStarts.includes(li) ? paraGap : 0);
  const words = toWords(segs);
  const nodes = words.map(w => {
    const t = bodyG.append("text").attr("y", baseY);
    let sub = false;
    w.forEach(([st, s]) => {
      const ts = t.append("tspan").text(s);
      if (st === "b") ts.attr("fill", linkColor);
      if (st === "i") ts.attr("font-style", "italic");
      if (st === "s" && !sub) { ts.attr("font-size", fs * 0.7).attr("dy", fs * 0.22); sub = true; }
      else if (st !== "s" && sub) { ts.attr("dy", -fs * 0.22); sub = false; }
    });
    return t;
  });
  const widths = nodes.map(n => n.node().getComputedTextLength());
  const startX = colL + (paragraphStarts.includes(li) ? indent : 0);
  const total = d3.sum(widths);
  const justify = !paragraphEnds.includes(li) && words.length > 1;
  const gap = justify ? (colR - startX - total) / (words.length - 1) : fs * 0.25;
  let x = startX;
  nodes.forEach((n, k) => { n.attr("x", x); x += widths[k] + gap; });
});
</script>
</body></html>
